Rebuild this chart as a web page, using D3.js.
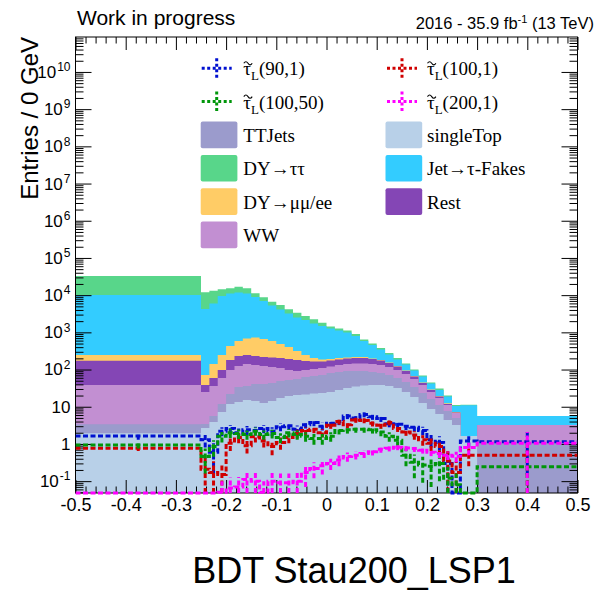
<!DOCTYPE html>
<html>
<head>
<meta charset="utf-8">
<script src="https://cdn.jsdelivr.net/npm/d3@7"></script>
<style>
  body { margin: 0; background: #fff; }
  svg { display: block; }
</style>
</head>
<body>
<svg id="chart" width="595" height="597"></svg>
<script>
// ---- binning of the BDT output ----
const binEdges = [-0.5, -0.25, -0.2333, -0.2167, -0.2, -0.1833, -0.1667, -0.15, -0.1333, -0.1167,
  -0.1, -0.0833, -0.0667, -0.05, -0.0333, -0.0167, 0, 0.0167, 0.0333, 0.05, 0.0667, 0.0833,
  0.1, 0.1167, 0.1333, 0.15, 0.1667, 0.1833, 0.2, 0.2167, 0.2333, 0.25, 0.2667, 0.3, 0.5];

// ---- stacked backgrounds (bottom to top) ----
const singleTop = [1.94, 2.7, 3.9, 7.25, 11.9, 13.5, 15.2, 14.3, 12.65, 14.3, 17.25,
  19.5, 20.8, 21.4, 22.8, 23.5, 25, 28.3, 32, 35.1, 37.4,
  38.5, 38.5, 36.2, 32, 25, 18.3, 12.65, 8.73, 6.4, 4.42,
  3.24, 1.64, 0];
const ttJets = [1.44, 0.75, 1.76, 4.65, 10.2, 20.6, 21, 26.7, 28.3, 29.3, 32.1,
  33, 35.1, 41.8, 44.5, 48.1, 56, 57.9, 59.7, 56.6, 54.3,
  47.7, 42.5, 35.4, 27.5, 21.4, 15.8, 10.85, 7.5, 4.8, 3.3,
  1.76, 0, 1.06];
const ww = [35.1, 21.5, 30.5, 47.6, 75.4, 91, 105, 92, 84, 73.9, 61,
  45, 35.8, 34.3, 36.5, 38.8, 40, 46.8, 49.8, 54.3, 54.3,
  55.3, 52, 45.9, 38, 29.8, 21.8, 15, 8.8, 6.05, 3.5,
  1.8, 0, 2.18];
const rest = [135, 13.5, 23.3, 38, 83.5, 107, 105.5, 99, 93, 94, 94.6,
  95.5, 89.3, 72.5, 61.2, 54.6, 55, 54, 57.5, 59, 59,
  51.5, 43, 32.9, 23.5, 15.5, 9.4, 5.1, 3.3, 1.65, 0.7,
  0.22, 0, 0];
const dyMuMu = [73.5, 33, 82, 149.5, 250, 355, 439, 497, 447, 375.5, 283,
  212, 135, 77, 40, 22, 17, 18, 12.5, 13, 13,
  6, 5, 4.6, 4, 2.9, 2, 1.4, 0.9, 0.6, 0.4,
  0.22, 0, 0];
const jetFakes = [9870, 4184, 5842, 9263, 10680, 11240, 10420, 8220, 6315, 4700, 3640,
  2817, 2201, 1907, 1529, 1299, 1080, 920, 781, 582, 369,
  259, 166, 100, 62, 42.4, 27.3, 20.3, 13.1, 8.8, 6.6,
  3.25, 9.3, 2.42];
const dyTauTau = [22700, 7710, 7226, 4900, 4200, 5090, 4200, 2300, 1810, 1400, 1325,
  956, 871, 605, 516, 338, 169, 148, 132, 106, 57,
  45, 34, 24, 18, 9, 6, 4.1, 2.7, 2.7, 1.2,
  0.7, 0.3, 0];

// ---- signal points (value, uncertainty) ----
const stau90_1 = [1.64, 1.3, 0.6, 2.2, 2.6, 2.0, 2.4, 2.3, 2.6, 2.2, 2.9,
  3.1, 2.5, 3.3, 3.8, 3.0, 3.6, 4.0, 5.6, 5.0, 6.2,
  5.4, 4.8, 3.5, 3.4, 3.0, 2.8, 2.3, 1.3, 1.1, 0.3,
  0, 1.2, 1.15];
const stau90_1Err = [0.35, 0.5, 0.45, 0.6, 0.65, 0.6, 0.65, 0.6, 0.65, 0.6, 0.7,
  0.7, 0.65, 0.7, 0.8, 0.7, 0.75, 0.8, 0.95, 0.9, 1.0,
  0.95, 0.9, 0.7, 0.7, 0.65, 0.65, 0.6, 0.5, 0.5, 0.3,
  0, 0.4, 1.0];
const stau100_1 = [0.77, 0.21, 0.17, 0.15, 1.05, 1.5, 0.9, 1.55, 1.2, 0.85, 1.1,
  1.5, 1.9, 2.3, 2.5, 2.0, 3.2, 4.0, 3.3, 4.4, 4.3,
  3.6, 3.2, 3.8, 2.6, 2.1, 1.75, 1.3, 1.05, 0.85, 0.35,
  0.17, 0.5, 0.5];
const stau100_1Err = [0.12, 0.21, 0.17, 0.15, 0.4, 0.45, 0.35, 0.45, 0.4, 0.35, 0.4,
  0.45, 0.5, 0.55, 0.55, 0.5, 0.65, 0.7, 0.65, 0.7, 0.7,
  0.65, 0.65, 0.65, 0.5, 0.45, 0.45, 0.4, 0.4, 0.35, 0.3,
  0.17, 0.25, 0.5];
const stau100_50 = [0.94, 0.46, 0.85, 1.6, 2.0, 1.9, 1.8, 2.2, 1.8, 1.9, 1.5,
  2.0, 1.8, 1.6, 1.4, 1.4, 1.6, 2.3, 2.4, 2.5, 2.5,
  2.4, 2.1, 1.6, 1.25, 0.5, 0.32, 0.27, 0.25, 0.3, 0.12,
  0.08, 0, 0.245];
const stau100_50Err = [0.18, 0.3, 0.4, 0.5, 0.55, 0.55, 0.5, 0.55, 0.5, 0.5, 0.45,
  0.5, 0.5, 0.45, 0.45, 0.45, 0.45, 0.5, 0.5, 0.5, 0.5,
  0.5, 0.5, 0.45, 0.4, 0.25, 0.2, 0.18, 0.18, 0.2, 0.12,
  0.08, 0, 0.245];
const stau200_1 = [0, 0, 0, 0.05, 0.065, 0.07, 0.11, 0.1, 0.05, 0.1, 0.09,
  0.09, 0.1, 0.17, 0.22, 0.26, 0.3, 0.37, 0.46, 0.5, 0.55,
  0.62, 0.72, 0.77, 0.82, 0.78, 0.75, 0.68, 0.6, 0.55, 0.5,
  0.47, 0.8, 1.05];
const stau200_1Err = [0, 0, 0, 0.05, 0.06, 0.06, 0.08, 0.08, 0.05, 0.08, 0.07,
  0.07, 0.08, 0.1, 0.1, 0.11, 0.1, 0.12, 0.13, 0.12, 0.13,
  0.13, 0.14, 0.14, 0.14, 0.14, 0.14, 0.13, 0.13, 0.13, 0.13,
  0.15, 0.3, 1.05];

// ---- axis ticks ----
const xTicks = [-0.5, -0.4, -0.3, -0.2, -0.1, 0, 0.1, 0.2, 0.3, 0.4, 0.5];
const xTickLabels = ["-0.5", "-0.4", "-0.3", "-0.2", "-0.1", "0", "0.1", "0.2", "0.3", "0.4", "0.5"];
const yTicks = [1e-1, 1, 1e1, 1e2, 1e3, 1e4, 1e5, 1e6, 1e7, 1e8, 1e9, 1e10];
const yTickLabels = ["10^-1", "1", "10", "10^2", "10^3", "10^4", "10^5", "10^6", "10^7", "10^8", "10^9", "10^10"];

// ---- series styling ----
const backgrounds = [
  { name: "singleTop",   values: singleTop, color: "#b8d0e8" },
  { name: "TTJets",      values: ttJets,    color: "#9b9bcc" },
  { name: "WW",          values: ww,        color: "#c28fd2" },
  { name: "Rest",        values: rest,      color: "#8446b5" },
  { name: "DY→μμ/ee",    values: dyMuMu,    color: "#ffcc66" },
  { name: "Jet→τ-Fakes", values: jetFakes,  color: "#33ccff" },
  { name: "DY→ττ",       values: dyTauTau,  color: "#58d68a" }
];
const signals = [
  { label: "(90,1)",   values: stau90_1,   errors: stau90_1Err,   color: "#0010d0" },
  { label: "(100,1)",  values: stau100_1,  errors: stau100_1Err,  color: "#d00000" },
  { label: "(100,50)", values: stau100_50, errors: stau100_50Err, color: "#00960a" },
  { label: "(200,1)",  values: stau200_1,  errors: stau200_1Err,  color: "#ff00ff" }
];

const svg = d3.select("#chart");
const frameL = 75.5, frameR = 577.5, frameT = 37, frameB = 493;

const x = d3.scaleLinear().domain([-0.5, 0.5]).range([frameL, frameR]);
const y = d3.scaleLog().domain([0.048, 8.7e10]).range([frameB, frameT]).clamp(true);
const yv = v => (v > 0 ? y(v) : frameB);

const defs = svg.append("defs");
defs.append("clipPath").attr("id", "plotClip")
  .append("rect").attr("x", frameL).attr("y", frameT)
  .attr("width", frameR - frameL).attr("height", frameB - frameT);
// signal outlines may sit on the lower frame line
defs.append("clipPath").attr("id", "signalClip")
  .append("rect").attr("x", frameL).attr("y", frameT)
  .attr("width", frameR - frameL).attr("height", frameB - frameT + 2);

const plot = svg.append("g").attr("clip-path", "url(#plotClip)");

// stacked cumulative sums
const nBins = binEdges.length - 1;
let running = new Array(nBins).fill(0);
const cumulative = backgrounds.map(b => {
  running = running.map((r, i) => r + b.values[i]);
  return running.slice();
});

const stepPoints = vals => {
  const pts = vals.map((v, i) => ({ x: binEdges[i], v }));
  pts.push({ x: binEdges[nBins], v: vals[nBins - 1] });
  return pts;
};

const area = d3.area()
  .x(d => x(d.x)).y0(frameB).y1(d => yv(d.v))
  .curve(d3.curveStepAfter);

// draw from the outermost sum inwards so each layer shows its own band
for (let j = backgrounds.length - 1; j >= 0; j--) {
  plot.append("path")
    .attr("d", area(stepPoints(cumulative[j])))
    .attr("fill", backgrounds[j].color)
    .attr("stroke", "none");
}

// ---- axes ----
const axisFont = "'Liberation Sans', Arial, Helvetica, sans-serif";
const xMinor = d3.range(0, 51).map(i => -0.5 + i * 0.02)
  .filter(v => Math.abs(v * 10 - Math.round(v * 10)) > 1e-6);
const yMinor = [];
for (let e = -2; e <= 10; e++) for (let m = 2; m <= 9; m++) {
  const v = m * Math.pow(10, e);
  if (v >= 0.048 && v <= 8.7e10) yMinor.push(v);
}

function styleAxis(g) {
  g.select(".domain").remove();
  g.selectAll(".tick line").attr("stroke", "#000").attr("stroke-width", 1);
}

// bottom
svg.append("g").attr("transform", `translate(0,${frameB})`)
  .call(d3.axisBottom(x).tickValues(xMinor).tickSizeInner(-6.5).tickSizeOuter(0).tickFormat(""))
  .call(styleAxis);
const gxb = svg.append("g").attr("transform", `translate(0,${frameB})`)
  .call(d3.axisBottom(x).tickValues(xTicks).tickSizeInner(-13).tickSizeOuter(0).tickPadding(5)
    .tickFormat((d, i) => xTickLabels[i]))
  .call(styleAxis);
gxb.selectAll(".tick text").attr("font-family", axisFont).attr("font-size", 18).attr("fill", "#000");

// top
svg.append("g").attr("transform", `translate(0,${frameT})`)
  .call(d3.axisTop(x).tickValues(xMinor).tickSizeInner(-6.5).tickSizeOuter(0).tickFormat(""))
  .call(styleAxis);
svg.append("g").attr("transform", `translate(0,${frameT})`)
  .call(d3.axisTop(x).tickValues(xTicks).tickSizeInner(-13).tickSizeOuter(0).tickFormat(""))
  .call(styleAxis);

// left
svg.append("g").attr("transform", `translate(${frameL},0)`)
  .call(d3.axisLeft(y).tickValues(yMinor).tickSizeInner(-8).tickSizeOuter(0).tickFormat(""))
  .call(styleAxis);
const gyl = svg.append("g").attr("transform", `translate(${frameL},0)`)
  .call(d3.axisLeft(y).tickValues(yTicks).tickSizeInner(-16).tickSizeOuter(0).tickPadding(5)
    .tickFormat((d, i) => yTickLabels[i].split("^")[0]))
  .call(styleAxis);
gyl.selectAll(".tick text")
  .attr("font-family", axisFont).attr("font-size", 17).attr("fill", "#000")
  .each(function (d, i) {
    const parts = yTickLabels[i].split("^");
    if (parts.length > 1) {
      d3.select(this).append("tspan")
        .attr("dx", 1).attr("dy", "-0.55em").attr("font-size", 12).text(parts[1]);
    }
  });

// right
svg.append("g").attr("transform", `translate(${frameR},0)`)
  .call(d3.axisRight(y).tickValues(yMinor).tickSizeInner(-8).tickSizeOuter(0).tickFormat(""))
  .call(styleAxis);
svg.append("g").attr("transform", `translate(${frameR},0)`)
  .call(d3.axisRight(y).tickValues(yTicks).tickSizeInner(-16).tickSizeOuter(0).tickFormat(""))
  .call(styleAxis);

// frame
svg.append("rect")
  .attr("x", frameL).attr("y", frameT).attr("width", frameR - frameL).attr("height", frameB - frameT)
  .attr("fill", "none").attr("stroke", "#000").attr("stroke-width", 1);

// signal histograms: dotted step outline with vertical uncertainties
const sigLayer = svg.append("g").attr("clip-path", "url(#signalClip)");
const line = d3.line().x(d => x(d.x)).y(d => yv(d.v)).curve(d3.curveStepAfter);
const dash = "5,2.5";
signals.forEach(s => {
  const g = sigLayer.append("g");
  g.append("path")
    .attr("d", line(stepPoints(s.values)))
    .attr("fill", "none").attr("stroke", s.color)
    .attr("stroke-width", 3).attr("stroke-dasharray", dash);
  s.values.forEach((v, i) => {
    if (!(v > 0) || !(s.errors[i] > 0)) return;
    const cx = x((binEdges[i] + binEdges[i + 1]) / 2);
    g.append("line")
      .attr("x1", cx).attr("x2", cx)
      .attr("y1", yv(v - s.errors[i])).attr("y2", yv(v + s.errors[i]))
      .attr("stroke", s.color).attr("stroke-width", 3).attr("stroke-dasharray", dash);
  });
});

// ---- titles ----
svg.append("text")
  .attr("x", 77).attr("y", 25)
  .attr("font-family", axisFont).attr("font-size", 21).attr("fill", "#000")
  .text("Work in progress");

const lumi = svg.append("text")
  .attr("x", 594).attr("y", 29).attr("text-anchor", "end")
  .attr("font-family", axisFont).attr("font-size", 16.5).attr("fill", "#000");
lumi.append("tspan").text("2016 - 35.9 fb");
lumi.append("tspan").attr("dy", -6).attr("font-size", 11).text("-1");
lumi.append("tspan").attr("dy", 6).text(" (13 TeV)");

svg.append("text")
  .attr("transform", "translate(38,37) rotate(-90)")
  .attr("text-anchor", "end")
  .attr("font-family", axisFont).attr("font-size", 24).attr("fill", "#000")
  .text("Entries  / 0 GeV");

svg.append("text")
  .attr("x", 354).attr("y", 583).attr("text-anchor", "middle")
  .attr("font-family", axisFont).attr("font-size", 36).attr("fill", "#000")
  .text("BDT Stau200_LSP1");

// ---- legend ----
const legendFont = "'Liberation Serif', 'Times New Roman', serif";
const rowY = i => 68.3 + i * 33.3;
const cols = [{ mark: 216.7, box: 200.7, text: 243.3 }, { mark: 402, box: 385.5, text: 427 }];
const legend = svg.append("g");

signals.forEach((s, i) => {
  const c = cols[i % 2], cy = rowY(Math.floor(i / 2));
  legend.append("line")
    .attr("x1", c.mark - 15).attr("x2", c.mark + 15).attr("y1", cy).attr("y2", cy)
    .attr("stroke", s.color).attr("stroke-width", 3).attr("stroke-dasharray", "3,2.5");
  legend.append("line")
    .attr("x1", c.mark).attr("x2", c.mark).attr("y1", cy - 10).attr("y2", cy + 10)
    .attr("stroke", s.color).attr("stroke-width", 3).attr("stroke-dasharray", "3,2.5");
  const t = legend.append("text")
    .attr("x", c.text).attr("y", cy + 7)
    .attr("font-family", legendFont).attr("font-size", 19).attr("fill", "#000");
  t.append("tspan").text("τ");
  t.append("tspan").attr("dy", 5).attr("font-size", 13).text("L");
  t.append("tspan").attr("dy", -5).text(s.label);
  // tilde accent over the tau
  const tx = c.text + 0.5, ty = cy - 6;
  legend.append("path")
    .attr("d", `M${tx},${ty + 1} q2.1,-3.2 4.2,0 t4.2,0`)
    .attr("fill", "none").attr("stroke", "#000").attr("stroke-width", 1.1);
});

const legendOrder = ["TTJets", "singleTop", "DY→ττ", "Jet→τ-Fakes", "DY→μμ/ee", "Rest", "WW"];
legendOrder.forEach((name, i) => {
  const b = backgrounds.find(d => d.name === name);
  const c = cols[i % 2], cy = rowY(2 + Math.floor(i / 2));
  legend.append("rect")
    .attr("x", c.box).attr("y", cy - 13.3).attr("width", 36.7).attr("height", 26.7)
    .attr("rx", 2).attr("fill", b.color);
  legend.append("text")
    .attr("x", c.text).attr("y", cy + 7)
    .attr("font-family", legendFont).attr("font-size", 19).attr("fill", "#000")
    .text(name);
});
</script>
</body>
</html>
